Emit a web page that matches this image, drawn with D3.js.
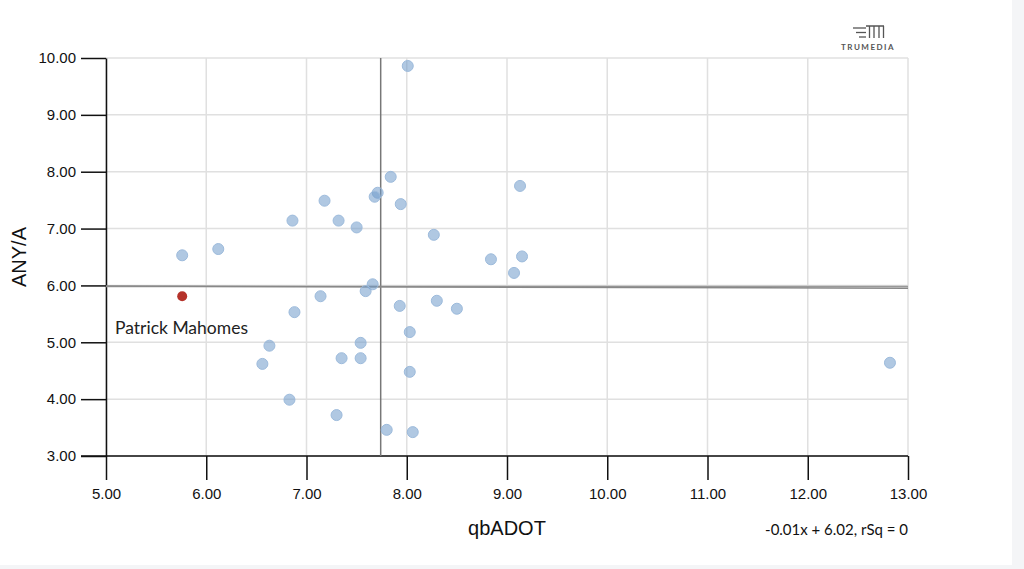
<!DOCTYPE html>
<html><head><meta charset="utf-8">
<script src="https://cdn.jsdelivr.net/npm/d3@7/dist/d3.min.js"></script>
<style>
html,body{margin:0;padding:0;background:#f4f5f7;}
svg{display:block;}
</style></head>
<body>
<svg id="chart" width="1024" height="569"></svg>
<script>
const qbADOT = [8.01,7.84,7.71,7.68,7.94,7.18,9.13,6.86,7.32,7.50,8.27,6.12,5.76,8.84,9.15,9.07,7.66,7.59,7.14,7.93,8.30,8.50,6.88,8.03,7.54,6.63,7.35,7.54,6.56,8.03,6.83,7.30,7.80,8.06,12.82];
const anyA   = [9.86,7.91,7.63,7.56,7.43,7.49,7.75,7.14,7.14,7.02,6.89,6.64,6.53,6.46,6.51,6.22,6.02,5.90,5.81,5.64,5.73,5.59,5.53,5.18,4.99,4.94,4.72,4.72,4.62,4.48,3.99,3.72,3.46,3.42,4.64];
const highlightName = "Patrick Mahomes";
const highlightX = 5.76, highlightY = 5.81;
const xTicks = [5,6,7,8,9,10,11,12,13];
const yTicks = [3,4,5,6,7,8,9,10];
const meanX = 7.74, meanY = 5.98;
const regSlope = -0.005, regIntercept = 6.015;
const equationText = "-0.01x + 6.02, rSq = 0";

const svg = d3.select("#chart");
svg.append("rect").attr("width",1012).attr("height",565).attr("fill","#fff");

const x = d3.scaleLinear().domain([5,13]).range([106,908]);
const y = d3.scaleLinear().domain([3,10]).range([456,58]);

// grid
const g = svg.append("g");
g.selectAll(".vg").data(xTicks).join("line")
  .attr("x1",d=>x(d)).attr("x2",d=>x(d)).attr("y1",y(3)).attr("y2",y(10))
  .attr("stroke","#e0e0e0").attr("stroke-width",1.5);
g.selectAll(".hg").data(yTicks).join("line")
  .attr("x1",x(5)).attr("x2",x(13)).attr("y1",d=>y(d)).attr("y2",d=>y(d))
  .attr("stroke","#e0e0e0").attr("stroke-width",1.5);

// axes
const fontTick = "'Liberation Sans', Arial, sans-serif";
const xAxis = svg.append("g").attr("transform",`translate(0,${y(3)})`)
  .call(d3.axisBottom(x).tickValues(xTicks).tickFormat(d3.format(".2f")).tickSize(24).tickSizeOuter(0).tickPadding(8));
const yAxis = svg.append("g").attr("transform",`translate(${x(5)},0)`)
  .call(d3.axisLeft(y).tickValues(yTicks).tickFormat(d3.format(".2f")).tickSize(25).tickSizeOuter(0).tickPadding(5));
[xAxis,yAxis].forEach(a=>{
  a.attr("font-size",15).attr("font-family",fontTick);
  a.selectAll("text").attr("font-family",fontTick).style("font-size","15px").attr("fill","#111");
  a.selectAll("line,path").attr("stroke","#111").attr("stroke-width",1.5);
});
xAxis.select(".domain").attr("d",`M${x(5)-25},0H${x(13)}`);

// mean lines
svg.append("line").attr("x1",x(meanX)).attr("x2",x(meanX)).attr("y1",y(10)).attr("y2",y(3))
  .attr("stroke","#777").attr("stroke-width",1.5);
svg.append("line").attr("x1",x(5)).attr("x2",x(13)).attr("y1",y(meanY)).attr("y2",y(meanY))
  .attr("stroke","#999").attr("stroke-width",1.5);
svg.append("line").attr("x1",x(5)).attr("x2",x(13))
  .attr("y1",y(regIntercept+regSlope*5)).attr("y2",y(regIntercept+regSlope*13))
  .attr("stroke","#888").attr("stroke-width",1.5);

// points
svg.append("g").selectAll("circle").data(qbADOT.map((v,i)=>[v,anyA[i]])).join("circle")
  .attr("cx",d=>x(d[0])).attr("cy",d=>y(d[1])).attr("r",5.5)
  .attr("fill","#6f9bca").attr("fill-opacity",0.55)
  .attr("stroke","#9dbbdc").attr("stroke-width",1);
svg.append("circle").attr("cx",x(highlightX)).attr("cy",y(highlightY)).attr("r",5)
  .attr("fill","#b5322a");
svg.append("text").attr("x",115).attr("y",334).text(highlightName)
  .attr("font-family","Lato, sans-serif").style("font-size","17.5px").attr("fill","#222");

// axis titles
svg.append("text").attr("x",507).attr("y",535).attr("text-anchor","middle").text("qbADOT")
  .attr("font-family",fontTick).style("font-size","20px").attr("fill","#111");
svg.append("text").attr("transform","translate(26,257) rotate(-90)").attr("text-anchor","middle").text("ANY/A")
  .attr("font-family",fontTick).style("font-size","20px").attr("fill","#111");
svg.append("text").attr("x",908).attr("y",535).attr("text-anchor","end").text(equationText)
  .attr("font-family","Lato, sans-serif").style("font-size","15px").attr("fill","#111");

// logo
const logo = svg.append("g").attr("fill","none").attr("stroke","#555").attr("stroke-width",1.3);
logo.append("line").attr("x1",853).attr("x2",866).attr("y1",28).attr("y2",28);
logo.append("line").attr("x1",856).attr("x2",866).attr("y1",32.5).attr("y2",32.5);
logo.append("line").attr("x1",859).attr("x2",866).attr("y1",37).attr("y2",37);
logo.append("path").attr("d","M866,26H884M869.5,26V38M874,26V38M879,26V38M883.5,26V38");
svg.append("text").attr("x",868).attr("y",50).attr("text-anchor","middle").text("TRUMEDIA")
  .attr("font-family","Lato, sans-serif").style("font-size","8px").attr("font-weight","bold")
  .attr("letter-spacing",1.5).attr("fill","#555");
</script>
</body></html>
